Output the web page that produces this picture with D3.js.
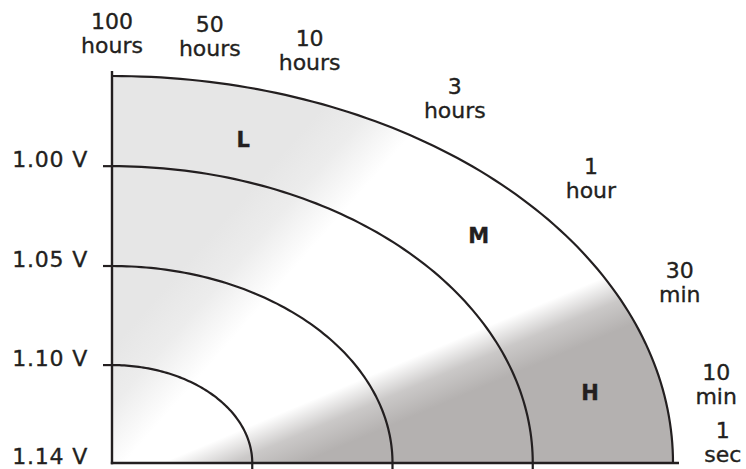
<!DOCTYPE html>
<html>
<head>
<meta charset="utf-8">
<script src="https://cdn.jsdelivr.net/npm/d3@7"></script>
<style>
  html, body { margin: 0; padding: 0; background: #ffffff; }
  svg { display: block; }
  text { font-family: "DejaVu Sans", sans-serif; fill: #231f20; stroke: #231f20; stroke-width: 0.35px; }
</style>
</head>
<body>
<div id="chart"></div>
<script>
// ---- data ----
const voltageLabels = ["1.14 V", "1.10 V", "1.05 V", "1.00 V"];
// each curve: horizontal reach and vertical height as a fraction of the outer boundary
const curveReach  = [0.25, 0.5, 0.75, 1.0];
const curveHeight = [0.253, 0.509, 0.767, 1.0];
const timeNumbers = ["100", "50", "10", "3", "1", "30", "10", "1"];
const timeUnits   = ["hours", "hours", "hours", "hours", "hour", "min", "min", "sec"];
const zoneLabels  = ["L", "M", "H"];

// ---- layout (not data) ----
const W = 746, H = 469;
const labelAngle = [90, 81, 71.7, 57, 40.7, 24.7, 10.7, 2.85];
const labelReach = [1.111, 1.115, 1.122, 1.122, 1.126, 1.114, 1.096, 1.09];
const zoneAngle  = [74.4, 41.9, 12.15];
const zoneReach  = [0.869, 0.8785, 0.8716];

const x = d3.scaleLinear().domain([0, 1]).range([112, 673]);
const y = d3.scaleLinear().domain([0, 1]).range([463, 76]);
const ink = "#231f20";

const svg = d3.select("#chart").append("svg").attr("width", W).attr("height", H);
const defs = svg.append("defs");

// light grey from top-left
const gA = defs.append("linearGradient").attr("id", "gA")
  .attr("gradientUnits", "userSpaceOnUse")
  .attr("x1", 236).attr("y1", 206).attr("x2", 300).attr("y2", 262);
gA.append("stop").attr("offset", 0).attr("stop-color", "#e6e6e6").attr("stop-opacity", 1);
gA.append("stop").attr("offset", 0.45).attr("stop-color", "#e6e6e6").attr("stop-opacity", 0.75);
gA.append("stop").attr("offset", 1).attr("stop-color", "#e6e6e6").attr("stop-opacity", 0);

// darker grey at bottom-right
const gB = defs.append("linearGradient").attr("id", "gB")
  .attr("gradientUnits", "userSpaceOnUse")
  .attr("x1", 188).attr("y1", 452).attr("x2", 209).attr("y2", 502);
gB.append("stop").attr("offset", 0).attr("stop-color", "#b4b1b0").attr("stop-opacity", 0);
gB.append("stop").attr("offset", 0.5).attr("stop-color", "#b4b1b0").attr("stop-opacity", 0.7);
gB.append("stop").attr("offset", 1).attr("stop-color", "#b4b1b0").attr("stop-opacity", 1);

const steps = d3.range(0, 91, 1);
function arcPoints(r, h) {
  return steps.map(a => {
    const t = (90 - a) * Math.PI / 180;
    return [x(r * Math.cos(t)), y(h * Math.sin(t))];
  });
}
const line = d3.line();

// filled region
const outer = arcPoints(curveReach[3], curveHeight[3]);
const regionPts = [[x(0), y(0)]].concat(outer);
["#ffffff", "url(#gA)", "url(#gB)"].forEach(f => {
  svg.append("path").attr("d", line(regionPts) + "Z").attr("fill", f);
});

// curves
curveReach.forEach((r, i) => {
  const pts = arcPoints(r, curveHeight[i]);
  if (i < curveReach.length - 1) pts.push([x(r), y(0) + 8]);
  svg.append("path").attr("d", line(pts))
    .attr("fill", "none").attr("stroke", ink).attr("stroke-width", 2.2);
});

// axes
svg.append("line").attr("x1", x(0)).attr("x2", x(0)).attr("y1", y(1) - 5).attr("y2", y(0) + 1.2)
  .attr("stroke", ink).attr("stroke-width", 2.4);
svg.append("line").attr("x1", x(0) - 1.2).attr("x2", x(1) + 6).attr("y1", y(0)).attr("y2", y(0))
  .attr("stroke", ink).attr("stroke-width", 2.4);

// voltage ticks and labels
const tickLevels = [0].concat(curveHeight.slice(0, 3));
tickLevels.forEach((h, i) => {
  if (i > 0) {
    svg.append("line").attr("x1", x(0) - 9).attr("x2", x(0)).attr("y1", y(h)).attr("y2", y(h))
      .attr("stroke", ink).attr("stroke-width", 2.2);
  }
  svg.append("text").attr("x", 88).attr("y", y(h) + 1)
    .attr("text-anchor", "end").attr("font-size", 22).attr("letter-spacing", 0.8)
    .text(voltageLabels[i]);
});

// time labels
timeNumbers.forEach((n, i) => {
  const t = labelAngle[i] * Math.PI / 180;
  const cx = x(labelReach[i] * Math.cos(t));
  const cy = y(labelReach[i] * Math.sin(t));
  svg.append("text").attr("x", cx).attr("y", cy - 4.5)
    .attr("text-anchor", "middle").attr("font-size", 22).text(n);
  svg.append("text").attr("x", cx).attr("y", cy + 19.5)
    .attr("text-anchor", "middle").attr("font-size", 22).text(timeUnits[i]);
});

// zone labels
zoneLabels.forEach((z, i) => {
  const t = zoneAngle[i] * Math.PI / 180;
  svg.append("text")
    .attr("x", x(zoneReach[i] * Math.cos(t)))
    .attr("y", y(zoneReach[i] * Math.sin(t)) + 7.5)
    .attr("text-anchor", "middle").attr("font-size", 21).attr("font-weight", "bold")
    .attr("stroke-width", 0)
    .text(z);
});
</script>
</body>
</html>
